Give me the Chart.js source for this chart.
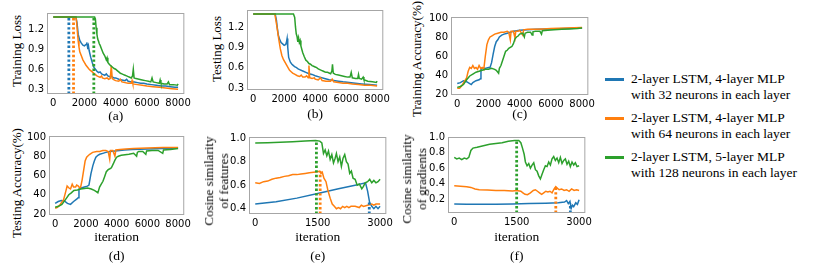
<!DOCTYPE html>
<html>
<head>
<meta charset="utf-8">
<script src="https://cdn.jsdelivr.net/npm/chart.js@4.4.1/dist/chart.umd.min.js"></script>
<style>
  html, body { margin: 0; padding: 0; background: #fff; }
  body { width: 814px; height: 268px; position: relative; overflow: hidden; }
  .panel { position: absolute; }
  .serif { font-family: "Liberation Serif", "Times New Roman", serif; color: #000; white-space: nowrap; }
  .entry { position: absolute; left: 631px; font-size: 13.5px; line-height: 15.5px; }
  .swatch { position: absolute; left: 605px; width: 19px; height: 3px; }
  .ytitle { position: absolute; left: 0; top: 0; font-size: 13px; line-height: 15px; text-align: center; }
</style>
</head>
<body>
<script>
// legend
const seriesNames = [
  ['2-layer LSTM, 4-layer MLP', 'with 32 neurons in each layer'],
  ['2-layer LSTM, 4-layer MLP', 'with 64 neurons in each layer'],
  ['2-layer LSTM, 5-layer MLP', 'with 128 neurons in each layer']
];
const seriesColors = ['#1f77b4', '#ff7f0e', '#2ca02c'];

// tick values
const iterTicksLong = [0, 2000, 4000, 6000, 8000];
const iterTicksShort = [0, 1500, 3000];
const lossTicks = [0.3, 0.6, 0.9, 1.2];
const accTicks = [20, 40, 60, 80, 100];
const featTicks = [0.4, 0.6, 0.8, 1.0];
const gradTicks = [0.2, 0.4, 0.6, 0.8, 1.0];

// (a) training loss, [iteration, value]
const trainLossBlue = [[0,1.38],[1450,1.38],[1520,1.30],[1600,1.12],[1700,1.03],[1800,0.99],[1900,0.96],[2000,0.95],[2100,0.97],[2150,1.00],[2200,0.93],[2250,0.96],[2300,0.88],[2400,0.78],[2500,0.70],[2600,0.63],[2700,0.60],[2800,0.57],[2900,0.55],[3000,0.56],[3100,0.53],[3200,0.52],[3300,0.51],[3400,0.53],[3500,0.50],[3600,0.49],[3700,0.50],[3800,0.48],[3900,0.47],[4000,0.47],[4200,0.45],[4400,0.44],[4600,0.43],[4700,0.45],[4800,0.42],[5000,0.41],[5200,0.41],[5400,0.40],[5600,0.39],[5800,0.39],[6000,0.38],[6300,0.37],[6600,0.36],[6900,0.35],[7200,0.35],[7500,0.34],[7800,0.33],[8000,0.33]];
const trainLossOrange = [[0,1.38],[1450,1.38],[1500,1.30],[1550,1.15],[1600,1.02],[1650,0.93],[1700,0.86],[1800,0.80],[1900,0.74],[2000,0.70],[2100,0.66],[2200,0.63],[2300,0.60],[2400,0.58],[2500,0.56],[2600,0.54],[2700,0.52],[2800,0.50],[2900,0.49],[3000,0.48],[3100,0.50],[3150,0.47],[3300,0.46],[3450,0.47],[3550,0.45],[3650,0.46],[3720,0.65],[3780,0.46],[3900,0.44],[4000,0.43],[4200,0.42],[4300,0.45],[4400,0.41],[4600,0.40],[4800,0.39],[5000,0.39],[5050,0.43],[5100,0.38],[5400,0.37],[5700,0.36],[6000,0.35],[6400,0.34],[6800,0.33],[7200,0.32],[7600,0.31],[8000,0.30]];
const trainLossGreen = [[0,1.38],[2650,1.38],[2700,1.35],[2750,1.22],[2800,1.12],[2850,1.05],[2900,1.02],[2950,0.98],[3000,0.96],[3100,0.90],[3200,0.84],[3300,0.80],[3400,0.74],[3450,0.77],[3500,0.70],[3600,0.67],[3700,0.65],[3800,0.63],[3900,0.61],[4000,0.60],[4100,0.58],[4200,0.56],[4300,0.54],[4400,0.53],[4500,0.52],[4600,0.51],[4700,0.50],[4800,0.49],[4900,0.48],[5000,0.47],[5080,0.50],[5130,0.60],[5180,0.47],[5300,0.46],[5500,0.45],[5700,0.44],[5900,0.43],[6100,0.42],[6250,0.41],[6330,0.47],[6400,0.41],[6600,0.40],[6800,0.39],[6850,0.44],[6900,0.39],[7100,0.38],[7300,0.38],[7380,0.41],[7450,0.37],[7700,0.37],[7950,0.36],[8000,0.38]];
const trainLossMarks = [[1000,1.38],[1300,1.38],[2600,1.38]];

// (b) testing loss
const testLossBlue = [[0,1.39],[1420,1.39],[1500,1.30],[1560,1.18],[1620,1.08],[1700,1.02],[1800,0.97],[1900,0.95],[2000,0.93],[2100,0.94],[2150,0.98],[2190,1.03],[2230,0.90],[2290,0.75],[2400,0.68],[2500,0.65],[2600,0.63],[2700,0.61],[2800,0.60],[2900,0.58],[3000,0.57],[3200,0.55],[3400,0.53],[3600,0.51],[3800,0.50],[4000,0.48],[4300,0.46],[4600,0.44],[4900,0.42],[5200,0.41],[5500,0.40],[5800,0.39],[6200,0.38],[6600,0.37],[7000,0.36],[7500,0.35],[8000,0.34]];
const testLossOrange = [[0,1.39],[1400,1.39],[1450,1.32],[1550,1.18],[1650,1.02],[1750,0.88],[1850,0.78],[1950,0.72],[2050,0.68],[2150,0.64],[2250,0.60],[2350,0.56],[2450,0.54],[2550,0.52],[2700,0.50],[2850,0.48],[3000,0.47],[3100,0.49],[3200,0.46],[3350,0.46],[3450,0.48],[3550,0.45],[3600,0.63],[3650,0.45],[3800,0.44],[3950,0.45],[4000,0.43],[4200,0.42],[4350,0.45],[4450,0.41],[4700,0.40],[5000,0.40],[5100,0.43],[5200,0.39],[5500,0.38],[5800,0.37],[6100,0.37],[6400,0.36],[6800,0.35],[7200,0.34],[7600,0.34],[8000,0.33]];
const testLossGreen = [[0,1.39],[2600,1.39],[2680,1.34],[2730,1.20],[2780,1.10],[2830,1.06],[2880,0.98],[2930,1.04],[2980,0.97],[3030,1.00],[3080,0.92],[3150,0.86],[3200,0.82],[3300,0.76],[3400,0.71],[3500,0.69],[3600,0.66],[3700,0.65],[3800,0.63],[3900,0.62],[4000,0.61],[4100,0.60],[4200,0.58],[4300,0.57],[4400,0.56],[4500,0.55],[4600,0.54],[4700,0.53],[4800,0.53],[4900,0.52],[5000,0.51],[5080,0.55],[5120,0.65],[5170,0.52],[5300,0.50],[5500,0.49],[5700,0.48],[5900,0.47],[6100,0.46],[6250,0.46],[6330,0.53],[6400,0.45],[6600,0.44],[6750,0.44],[6800,0.50],[6850,0.44],[7000,0.43],[7100,0.46],[7150,0.42],[7400,0.40],[7700,0.39],[7950,0.38],[8000,0.40]];

// (c) training accuracy
const trainAccBlue = [[0,31],[200,32],[400,34],[600,33],[800,31],[900,30],[1000,32],[1200,34],[1400,35],[1480,36],[1520,46],[1600,47],[1800,47],[2000,48],[2100,48],[2200,53],[2300,62],[2400,70],[2500,75],[2600,77],[2700,80],[2850,82],[3000,83],[3200,84],[3400,85],[3600,86],[3800,86.5],[4000,87],[4500,87.5],[5000,88],[6000,88.5],[7000,89],[8000,89.5]];
const trainAccOrange = [[0,26],[150,26],[300,29],[450,33],[600,37],[700,44],[800,48],[900,47],[1000,50],[1100,47],[1200,48],[1300,46],[1400,50],[1500,47],[1600,48],[1700,46],[1800,60],[1900,72],[2000,77],[2100,80],[2200,81],[2400,83],[2600,84],[2800,85],[3000,85],[3200,86],[3300,85],[3400,77],[3450,86],[3600,86],[3700,79],[3750,86],[3900,86],[4000,87],[4200,82],[4250,87.5],[4500,88],[5000,88],[5500,88.5],[6000,89],[7000,89.5],[8000,90]];
const trainAccGreen = [[0,27],[200,28],[400,30],[600,35],[800,39],[1000,41],[1200,43],[1400,44],[1600,45],[1800,46],[2000,46],[2200,47],[2400,46],[2500,45],[2600,43],[2650,42],[2700,47],[2800,50],[2900,55],[3000,60],[3100,65],[3200,66],[3300,68],[3400,69],[3500,70],[3600,73],[3700,78],[3800,80],[3900,81],[4000,83],[4200,84],[4300,80],[4350,84],[4500,85],[4700,85],[4800,82],[4850,85.5],[5000,86],[5300,86],[5400,83],[5450,86.5],[5800,87],[6200,87.5],[6700,88],[7200,88.5],[7700,89],[8000,89.5]];

// (d) testing accuracy
const testAccBlue = [[0,31],[200,33],[400,34],[600,33.5],[800,31],[1000,30],[1200,33],[1400,35.5],[1500,37],[1550,46],[1700,47],[1900,48],[2100,49],[2200,50],[2330,62],[2450,70],[2550,75],[2650,79],[2780,81],[2900,82],[3100,83],[3300,84],[3550,85],[3900,85.5],[4500,86.5],[5000,87],[6000,87.5],[7000,88],[8000,88.5]];
const testAccOrange = [[0,26],[150,27],[330,30],[550,35],[700,44],[780,49],[900,47],[1000,46],[1110,51],[1200,48],[1330,48],[1400,50],[1510,49],[1600,47],[1660,48],[1750,55],[1820,62],[1950,75],[2050,79],[2110,80],[2250,82],[2440,84],[2700,85],[2900,85],[3100,86],[3300,86],[3450,85],[3550,77],[3600,86],[3750,86],[3890,80],[3950,86.5],[4220,87],[4600,87.5],[5100,88],[6000,88.5],[7000,89],[8000,89]];
const testAccGreen = [[0,27],[220,28],[440,30],[670,35],[890,40],[1050,42],[1220,44.5],[1450,45],[1660,46],[1900,46.5],[2110,47],[2350,46],[2550,44.5],[2700,43],[2780,42],[2890,48],[3000,51],[3110,54],[3200,58],[3330,64],[3450,66],[3560,67],[3660,68],[3780,72],[3890,76],[4000,79],[4110,80],[4300,81],[4550,81.5],[4800,82],[5110,83],[5300,80],[5350,84],[5440,85],[5700,85],[5900,82],[5950,85.5],[6300,86],[6700,86],[7000,83],[7050,86.5],[7500,87],[8000,88]];

// (e) cosine similarity of features
const featBlue = [[0,0.44],[500,0.46],[1000,0.49],[1500,0.53],[2000,0.57],[2400,0.60],[2650,0.62],[2700,0.55],[2750,0.45],[2800,0.42],[2850,0.40],[2900,0.42],[2950,0.40],[3000,0.42]];
const featOrange = [[0,0.62],[100,0.615],[200,0.63],[300,0.635],[400,0.65],[500,0.66],[600,0.665],[700,0.675],[800,0.68],[900,0.69],[1000,0.69],[1100,0.695],[1200,0.70],[1300,0.705],[1400,0.71],[1500,0.715],[1550,0.72],[1580,0.70],[1610,0.71],[1650,0.66],[1700,0.63],[1750,0.55],[1800,0.49],[1850,0.44],[1900,0.42],[1950,0.40],[2000,0.41],[2050,0.40],[2100,0.42],[2150,0.41],[2200,0.42],[2250,0.41],[2300,0.42],[2400,0.42],[2500,0.41],[2550,0.43],[2600,0.42],[2700,0.43],[2800,0.44],[2850,0.43],[2900,0.44],[3000,0.44]];
const featGreen = [[0,0.96],[300,0.962],[600,0.966],[900,0.97],[1200,0.975],[1450,0.98],[1550,0.975],[1600,0.96],[1640,0.87],[1680,0.90],[1720,0.85],[1760,0.89],[1800,0.82],[1840,0.86],[1880,0.79],[1920,0.83],[1950,0.87],[1990,0.80],[2030,0.84],[2070,0.76],[2110,0.83],[2150,0.86],[2190,0.80],[2230,0.78],[2270,0.70],[2310,0.72],[2350,0.66],[2400,0.65],[2450,0.60],[2500,0.61],[2560,0.57],[2600,0.59],[2640,0.62],[2700,0.63],[2750,0.65],[2800,0.62],[2850,0.64],[2900,0.62],[2950,0.63],[3000,0.65]];
const featMarks = [[2740,0.47],[1560,0.72],[1470,0.98]];

// (f) cosine similarity of gradients
const gradBlue = [[0,0.135],[300,0.13],[600,0.13],[1000,0.13],[1400,0.135],[1800,0.14],[2200,0.145],[2500,0.15],[2650,0.16],[2700,0.18],[2740,0.14],[2780,0.17],[2810,0.08],[2840,0.12],[2870,0.10],[2920,0.15],[2960,0.13],[3000,0.19]];
const gradOrange = [[0,0.37],[150,0.365],[300,0.36],[400,0.35],[500,0.33],[600,0.32],[800,0.315],[1000,0.31],[1200,0.31],[1400,0.305],[1500,0.31],[1600,0.30],[1650,0.28],[1700,0.26],[1760,0.255],[1830,0.28],[1900,0.31],[1950,0.32],[2000,0.30],[2050,0.28],[2100,0.26],[2150,0.28],[2200,0.30],[2250,0.29],[2300,0.30],[2350,0.28],[2400,0.33],[2440,0.36],[2480,0.34],[2520,0.32],[2580,0.33],[2640,0.31],[2700,0.32],[2760,0.30],[2820,0.33],[2880,0.31],[2940,0.32],[3000,0.31]];
const gradGreen = [[0,0.74],[60,0.72],[120,0.73],[180,0.71],[240,0.73],[300,0.72],[350,0.74],[400,0.83],[450,0.86],[550,0.87],[700,0.89],[850,0.91],[1000,0.92],[1150,0.93],[1300,0.95],[1450,0.96],[1550,0.96],[1600,0.93],[1640,0.86],[1680,0.78],[1710,0.68],[1750,0.63],[1790,0.66],[1830,0.60],[1870,0.64],[1910,0.67],[1950,0.58],[1990,0.56],[2030,0.50],[2070,0.46],[2110,0.52],[2150,0.58],[2190,0.63],[2230,0.62],[2270,0.68],[2310,0.64],[2350,0.72],[2390,0.75],[2430,0.70],[2470,0.73],[2510,0.67],[2550,0.74],[2590,0.66],[2630,0.70],[2670,0.72],[2710,0.65],[2750,0.69],[2790,0.62],[2830,0.68],[2870,0.64],[2910,0.67],[2950,0.62],[3000,0.63]];
const gradMarks = [[2790,0.14],[2440,0.36],[1500,0.96]];

const serif = '"Liberation Serif", "Times New Roman", serif';

// grey box around each plot area
const frame = {
  id: 'frame',
  afterDatasetsDraw(chart) {
    const a = chart.chartArea, c = chart.ctx;
    c.save();
    c.strokeStyle = '#a6a6a6';
    c.lineWidth = 1;
    c.strokeRect(a.left + 0.5, a.top + 0.5, a.right - a.left - 1, a.bottom - a.top - 1);
    c.restore();
  }
};

// rotated y-axis label, centred on (cx, cy)
function yTitle(lines, cx, cy) {
  const d = document.createElement('div');
  d.className = 'serif ytitle';
  d.innerHTML = lines.join('<br>');
  document.body.appendChild(d);
  const w = d.offsetWidth, h = d.offsetHeight;
  d.style.transform = `translate(${cx - w / 2}px, ${cy - h / 2}px) rotate(-90deg)`;
}

function makePanel(p) {
  // p.box = [left, top, right, bottom] of the plot area in page pixels
  const [l, t, r, b] = p.box;
  const x = p.left, y = t - 4, w = r + 4 - p.left, h = p.bottom - y;
  const div = document.createElement('div');
  div.className = 'panel';
  div.style.cssText = `left:${x}px;top:${y}px;width:${w}px;height:${h}px`;
  const cv = document.createElement('canvas');
  div.appendChild(cv);
  document.body.appendChild(div);

  const datasets = [];
  p.series.forEach((s, i) => {
    datasets.push({
      data: s.map(v => ({x: v[0], y: v[1]})),
      borderColor: seriesColors[i], borderWidth: 1.5,
      pointRadius: 0, tension: 0, order: 3 - i
    });
  });
  (p.marks || []).forEach((m, i) => {
    datasets.push({
      data: [{x: m[0], y: p.y[0]}, {x: m[0], y: m[1]}],
      borderColor: seriesColors[i], borderWidth: 2.8, borderDash: [2.4, 2.2],
      pointRadius: 0, order: 0
    });
  });

  new Chart(cv, {
    type: 'line',
    data: {datasets},
    plugins: [frame],
    options: {
      responsive: true, maintainAspectRatio: false, animation: false, events: [],
      layout: {padding: {top: 4, right: 4, left: 0, bottom: 0}},
      plugins: {legend: {display: false}, tooltip: {enabled: false}},
      scales: {
        x: {
          type: 'linear', min: p.x[0], max: p.x[1],
          grid: {display: false, drawTicks: false}, border: {display: false},
          afterBuildTicks: s => { s.ticks = p.xTicks.map(v => ({value: v})); },
          afterFit: s => { s.height = p.bottom - b; },
          ticks: {color: '#000', font: {family: 'DejaVu Sans', size: 10}, padding: 3, maxRotation: 0, callback: v => String(v)},
          title: {display: true, text: p.xTitle, color: '#000',
                  font: {family: serif, size: 13.5, lineHeight: p.xLine || 1.15}, padding: {top: 0, bottom: 2}}
        },
        y: {
          min: p.y[0], max: p.y[1],
          grid: {display: false, drawTicks: false}, border: {display: false},
          afterBuildTicks: s => { s.ticks = p.yTicks.map(v => ({value: v})); },
          afterFit: s => { s.width = l - p.left; },
          ticks: {color: '#000', font: {family: 'DejaVu Sans', size: 10}, padding: 3, callback: p.fmt}
        }
      }
    }
  });
  yTitle(p.yTitle, p.yt[0], p.yt[1]);
}

const oneDec = v => v.toFixed(1);
const whole = v => String(v);

makePanel({box: [47, 8, 190, 94], left: 26, bottom: 126, x: [-400, 8400], y: [0.23, 1.44],
  xTicks: iterTicksLong, yTicks: lossTicks, fmt: oneDec, xTitle: '(a)',
  yTitle: ['Training Loss'], yt: [16, 51],
  series: [trainLossBlue, trainLossOrange, trainLossGreen], marks: trainLossMarks});
makePanel({box: [247, 5, 389, 90], left: 226, bottom: 124, x: [-400, 8400], y: [0.27, 1.45],
  xTicks: iterTicksLong, yTicks: lossTicks, fmt: oneDec, xTitle: '(b)',
  yTitle: ['Testing Loss'], yt: [217, 49],
  series: [testLossBlue, testLossOrange, testLossGreen]});
makePanel({box: [451, 12, 594, 95], left: 426, bottom: 124, x: [-400, 8400], y: [19, 101],
  xTicks: iterTicksLong, yTicks: accTicks, fmt: whole, xTitle: '(c)',
  yTitle: ['Training Accuracy(%)'], yt: [416, 59],
  series: [trainAccBlue, trainAccOrange, trainAccGreen]});
makePanel({box: [49, 131, 190, 215], left: 26, bottom: 268, x: [-400, 8400], y: [19, 101],
  xTicks: iterTicksLong, yTicks: accTicks, fmt: whole, xTitle: ['iteration', '(d)'], xLine: 1.4,
  yTitle: ['Testing Accuracy(%)'], yt: [17, 183],
  series: [testAccBlue, testAccOrange, testAccGreen]});
makePanel({box: [249, 132, 392, 214], left: 228, bottom: 268, x: [-150, 3150], y: [0.355, 1.01],
  xTicks: iterTicksShort, yTicks: featTicks, fmt: oneDec, xTitle: ['iteration', '(e)'], xLine: 1.4,
  yTitle: ['Cosine similarity', 'of features'], yt: [216, 181],
  series: [featBlue, featOrange, featGreen], marks: featMarks});
makePanel({box: [448, 132, 591, 213], left: 426, bottom: 268, x: [-150, 3150], y: [0.018, 1.004],
  xTicks: iterTicksShort, yTicks: gradTicks, fmt: oneDec, xTitle: ['iteration', '(f)'], xLine: 1.4,
  yTitle: ['Cosine similarity', 'of gradients'], yt: [414, 179],
  series: [gradBlue, gradOrange, gradGreen], marks: gradMarks});

// legend on the right
seriesNames.forEach((lines, i) => {
  const top = 71 + i * 39;
  const sw = document.createElement('div');
  sw.className = 'swatch';
  sw.style.top = (top + 7) + 'px';
  sw.style.background = seriesColors[i];
  document.body.appendChild(sw);
  const lb = document.createElement('div');
  lb.className = 'serif entry';
  lb.style.top = top + 'px';
  lb.innerHTML = lines.join('<br>');
  document.body.appendChild(lb);
});
</script>
</body>
</html>
